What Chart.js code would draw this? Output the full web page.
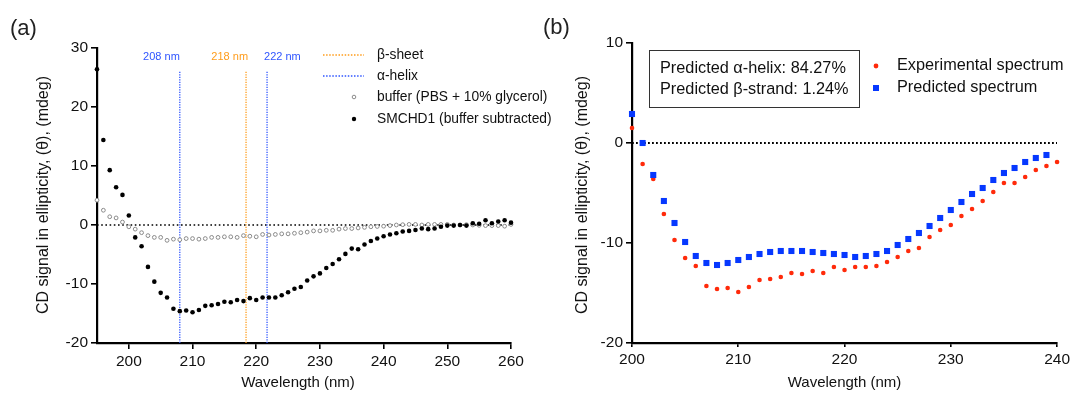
<!DOCTYPE html>
<html><head><meta charset="utf-8">
<script src="https://cdn.jsdelivr.net/npm/chart.js@4.4.1/dist/chart.umd.min.js"></script>
<style>
html,body{margin:0;padding:0;background:#fff;}
#wrap{position:relative;width:1073px;height:394px;background:#fff;}
canvas{position:absolute;left:0;top:0;}
</style></head><body>
<div id="wrap"><canvas id="cA" width="1073" height="394"></canvas><canvas id="cB" width="1073" height="394"></canvas></div>
<script>
// ---------- Panel (a) data ----------
const wavelengthsA = [195,196,197,198,199,200,201,202,203,204,205,206,207,208,209,210,211,212,213,214,215,216,217,218,219,220,221,222,223,224,225,226,227,228,229,230,231,232,233,234,235,236,237,238,239,240,241,242,243,244,245,246,247,248,249,250,251,252,253,254,255,256,257,258,259,260];
const smchd1 = [26.4,14.4,9.3,6.4,5.1,1.6,-2.1,-3.6,-7.1,-9.6,-11.5,-12.3,-14.2,-14.6,-14.5,-14.8,-14.4,-13.7,-13.6,-13.4,-13.0,-13.1,-12.7,-12.9,-12.4,-12.7,-12.3,-12.3,-12.3,-11.9,-11.4,-10.8,-10.5,-9.4,-8.7,-8.2,-7.3,-6.6,-5.8,-4.9,-4.0,-4.1,-3.3,-2.7,-2.3,-1.9,-1.6,-1.4,-1.1,-1.0,-0.85,-0.6,-0.7,-0.6,-0.3,-0.1,-0.1,0.0,-0.1,0.3,0.2,0.8,0.3,0.6,0.8,0.4];
const bufferSignal = [4.2,2.5,1.4,1.2,0.5,-0.3,-0.7,-1.3,-1.8,-2.1,-2.1,-2.6,-2.4,-2.5,-2.3,-2.3,-2.4,-2.3,-2.1,-2.1,-2.0,-2.0,-2.1,-1.8,-1.9,-2.0,-1.6,-1.7,-1.6,-1.5,-1.5,-1.4,-1.3,-1.2,-1.0,-1.0,-0.9,-0.9,-0.7,-0.6,-0.6,-0.5,-0.4,-0.3,-0.25,-0.2,-0.1,0.0,0.05,0.1,0.1,0.0,0.1,0.1,0.1,0.1,0.0,0.0,0.05,0.0,-0.05,-0.1,-0.1,-0.1,-0.2,0.1];
const refWavelengths = [208, 218.4, 221.7];
const refLabels = ['208 nm', '218 nm', '222 nm'];
const refTop = 26;
const xTicksA = [200,210,220,230,240,250,260];
const yTicksA = [-20,-10,0,10,20,30];

// ---------- Panel (b) data ----------
const wavelengthsB = [200,201,202,203,204,205,206,207,208,209,210,211,212,213,214,215,216,217,218,219,220,221,222,223,224,225,226,227,228,229,230,231,232,233,234,235,236,237,238,239,240];
const experimental = [1.5,-2.1,-3.6,-7.1,-9.7,-11.5,-12.3,-14.3,-14.6,-14.5,-14.9,-14.4,-13.7,-13.6,-13.4,-13.0,-13.1,-12.8,-13.0,-12.4,-12.7,-12.4,-12.4,-12.3,-11.9,-11.4,-10.8,-10.5,-9.4,-8.7,-8.2,-7.3,-6.6,-5.8,-4.9,-4.0,-4.0,-3.4,-2.7,-2.3,-1.9];
const predicted = [2.9,0.0,-3.2,-5.8,-8.0,-9.9,-11.3,-12.0,-12.2,-12.0,-11.7,-11.4,-11.1,-10.9,-10.8,-10.8,-10.8,-10.9,-11.0,-11.1,-11.2,-11.4,-11.3,-11.1,-10.8,-10.2,-9.6,-9.0,-8.3,-7.5,-6.7,-5.9,-5.1,-4.5,-3.7,-3.0,-2.5,-1.9,-1.5,-1.2,null];
const xTicksB = [200,210,220,230,240];
const yTicksB = [-20,-10,0,10];

const FONT = '"Liberation Sans", Arial, Helvetica, sans-serif';
const BLUE_LINE = '#2f55ff';
const ORANGE_LINE = '#ff9c1a';
const RED = '#ff2a0a';
const BLUE = '#0638ff';

function pts(xs, ys){ return xs.map((x,i)=>({x:x, y:ys[i]})).filter(p=>p.y!==null); }

function axisOpts(ticksArr, fitFn){
  return {
    type:'linear',
    afterBuildTicks: s => { s.ticks = ticksArr.map(v=>({value:v})); },
    afterFit: fitFn,
    grid:{display:true, drawOnChartArea:false, drawTicks:true, tickLength:6, color:'#000', lineWidth:1.6},
    border:{display:true, color:'#000', width:2.2},
    ticks:{color:'#111', font:{family:FONT, size:15.5}, padding:3, maxRotation:0, autoSkip:false}
  };
}

function drawText(ctx, txt, x, y, font, color, align, base){
  ctx.save(); ctx.font = font; ctx.fillStyle = color; ctx.textAlign = align||'left'; ctx.textBaseline = base||'middle';
  ctx.fillText(txt, x, y); ctx.restore();
}
function drawRotated(ctx, txt, x, y, font){
  ctx.save(); ctx.translate(x, y); ctx.rotate(-Math.PI/2);
  ctx.font = font; ctx.fillStyle = '#111'; ctx.textAlign='center'; ctx.textBaseline='middle';
  ctx.fillText(txt, 0, 0); ctx.restore();
}

const annotA = {
  id:'annotA',
  afterDraw(chart){
    const ctx = chart.ctx, xs = chart.scales.x, ys = chart.scales.y;
    drawText(ctx, '(a)', 10, 29, '22px '+FONT, '#222');
    drawRotated(ctx, 'CD signal in ellipticity, (\u03B8), (mdeg)', 44, 195, '16px '+FONT);
    drawText(ctx, 'Wavelength (nm)', 298, 383, '15px '+FONT, '#111', 'center');
    const labY = ys.getPixelForValue(28.5);
    const offs = [0, 2, -3];
    const aligns = ['right', 'right', 'left'];
    refWavelengths.forEach((w,i)=>{
      drawText(ctx, refLabels[i], xs.getPixelForValue(w) + offs[i], labY, '11px '+FONT, i===1?ORANGE_LINE:BLUE_LINE, aligns[i]);
    });
    // legend
    ctx.save();
    ctx.lineWidth = 1.6; ctx.setLineDash([1.5,1.6]);
    ctx.strokeStyle = ORANGE_LINE; ctx.beginPath(); ctx.moveTo(323,55); ctx.lineTo(364,55); ctx.stroke();
    ctx.strokeStyle = BLUE_LINE; ctx.beginPath(); ctx.moveTo(323,76); ctx.lineTo(364,76); ctx.stroke();
    ctx.setLineDash([]);
    ctx.strokeStyle = '#8a8a8a'; ctx.lineWidth = 1; ctx.fillStyle='#fff';
    ctx.beginPath(); ctx.arc(354,97,1.8,0,Math.PI*2); ctx.fill(); ctx.stroke();
    ctx.fillStyle = '#000'; ctx.beginPath(); ctx.arc(354,119,2.2,0,Math.PI*2); ctx.fill();
    ctx.restore();
    const lf = '13.8px '+FONT;
    drawText(ctx, '\u03B2-sheet', 377, 55, lf, '#111');
    drawText(ctx, '\u03B1-helix', 377, 76, lf, '#111');
    drawText(ctx, 'buffer (PBS + 10% glycerol)', 377, 97, lf, '#111');
    drawText(ctx, 'SMCHD1 (buffer subtracted)', 377, 119, lf, '#111');
  }
};

const annotB = {
  id:'annotB',
  afterDraw(chart){
    const ctx = chart.ctx, xs = chart.scales.x;
    drawText(ctx, '(b)', 543, 28, '22px '+FONT, '#222');
    drawRotated(ctx, 'CD signal in ellipticity, (\u03B8), (mdeg)', 583, 195, '16px '+FONT);
    drawText(ctx, 'Wavelength (nm)', (xs.left+xs.right)/2, 383, '15px '+FONT, '#111', 'center');
    ctx.save(); ctx.strokeStyle='#333'; ctx.lineWidth=1; ctx.strokeRect(649.5,50.5,210,57); ctx.restore();
    drawText(ctx, 'Predicted \u03B1-helix: 84.27%', 660, 69, '16.3px '+FONT, '#111');
    drawText(ctx, 'Predicted \u03B2-strand: 1.24%', 660, 90, '16.3px '+FONT, '#111');
    ctx.save();
    ctx.fillStyle = RED; ctx.beginPath(); ctx.arc(876,66,2.4,0,Math.PI*2); ctx.fill();
    ctx.fillStyle = BLUE; ctx.fillRect(873,85,6,6);
    ctx.restore();
    drawText(ctx, 'Experimental spectrum', 897, 66, '16.3px '+FONT, '#111');
    drawText(ctx, 'Predicted spectrum', 897, 88, '16.3px '+FONT, '#111');
  }
};

// ---------- Chart (a) ----------
const refDatasets = refWavelengths.map((w,i)=>({
  data:[{x:w,y:-20},{x:w,y:refTop}], showLine:true, pointRadius:0,
  borderColor: i===1?ORANGE_LINE:BLUE_LINE, borderWidth:1.3, borderDash:[1.2,1.3], order:2, clip:false
}));
const xA = axisOpts(xTicksA, s=>{ s.height = 51; }); xA.min = 195; xA.max = 260;
const yA = axisOpts(yTicksA, s=>{ s.width = 97; }); yA.min = -20; yA.max = 30;
new Chart(document.getElementById('cA'), {
  type:'scatter',
  data:{datasets:[
    {data:pts(wavelengthsA, smchd1), pointRadius:2.3, pointBorderWidth:0, backgroundColor:'#000', borderColor:'#000', order:0, clip:false},
    {data:pts(wavelengthsA, bufferSignal), pointRadius:1.9, pointBorderWidth:1, backgroundColor:'#fff', borderColor:'#8a8a8a', order:1, clip:false},
    ...refDatasets,
    {data:[{x:195,y:0},{x:260,y:0}], showLine:true, pointRadius:0, borderColor:'#000', borderWidth:1.6, borderDash:[1.6,2.6], order:3}
  ]},
  options:{
    responsive:false, animation:false, events:[],
    layout:{padding:{left:0, top:48, right:1073-511, bottom:0}},
    plugins:{legend:{display:false}, tooltip:{enabled:false}},
    scales:{x:xA, y:yA}
  },
  plugins:[annotA]
});

// ---------- Chart (b) ----------
const xB = axisOpts(xTicksB, s=>{ s.height = 51; }); xB.min = 200; xB.max = 240; xB.grid.tickLength = 4;
const yB = axisOpts(yTicksB, s=>{ s.width = 632; }); yB.min = -20; yB.max = 10;
new Chart(document.getElementById('cB'), {
  type:'scatter',
  data:{datasets:[
    {data:pts(wavelengthsB, predicted), pointStyle:'rect', pointRadius:4.3, pointBorderWidth:0, backgroundColor:BLUE, borderColor:BLUE, order:0, clip:false},
    {data:pts(wavelengthsB, experimental), pointRadius:2.3, pointBorderWidth:0, backgroundColor:RED, borderColor:RED, order:1, clip:false},
    {data:[{x:200,y:0},{x:240,y:0}], showLine:true, pointRadius:0, borderColor:'#000', borderWidth:1.8, borderDash:[1.8,2.2], order:3}
  ]},
  options:{
    responsive:false, animation:false, events:[],
    layout:{padding:{left:0, top:43, right:1073-1060, bottom:0}},
    plugins:{legend:{display:false}, tooltip:{enabled:false}},
    scales:{x:xB, y:yB}
  },
  plugins:[annotB]
});
</script>
</body></html>
